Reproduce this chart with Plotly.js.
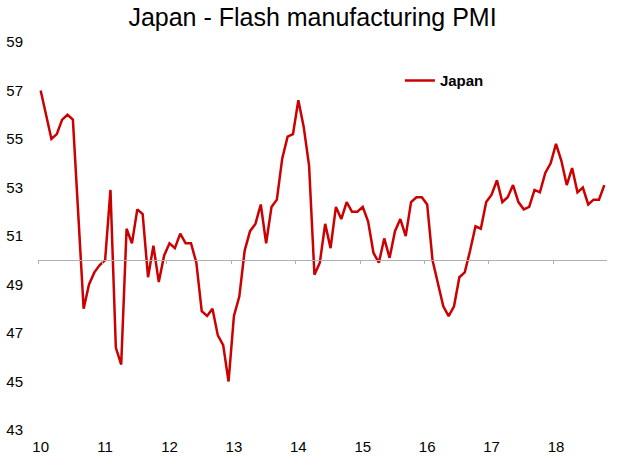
<!DOCTYPE html>
<html>
<head>
<meta charset="utf-8">
<script src="https://cdn.plot.ly/plotly-3.0.1.min.js"></script>
<style>html,body{margin:0;padding:0;background:#fff;}#chart{width:625px;height:461px;}</style>
</head>
<body>
<div id="chart"></div>
<script>
// Monthly values, Jan 2010 .. Oct 2018
const seriesName = "Japan";
const pmi2010 = [57.0, 56.0, 55.0, 55.2, 55.8, 56.0, 55.8, 51.9, 48.0, 49.0, 49.5, 49.8];
const pmi2011 = [50.0, 52.9, 46.4, 45.7, 51.3, 50.7, 52.1, 51.9, 49.3, 50.6, 49.1, 50.2];
const pmi2012 = [50.7, 50.5, 51.1, 50.7, 50.7, 49.9, 47.9, 47.7, 48.0, 46.9, 46.5, 45.0];
const pmi2013 = [47.7, 48.5, 50.4, 51.2, 51.5, 52.3, 50.7, 52.2, 52.5, 54.2, 55.1, 55.2];
const pmi2014 = [56.6, 55.5, 53.9, 49.4, 49.9, 51.5, 50.5, 52.2, 51.7, 52.4, 52.0, 52.0];
const pmi2015 = [52.2, 51.6, 50.3, 49.9, 50.9, 50.1, 51.2, 51.7, 51.0, 52.4, 52.6, 52.6];
const pmi2016 = [52.3, 50.0, 49.0, 48.1, 47.7, 48.1, 49.3, 49.5, 50.4, 51.4, 51.3, 52.4];
const pmi2017 = [52.7, 53.3, 52.4, 52.6, 53.1, 52.4, 52.1, 52.2, 52.9, 52.8, 53.6, 54.0];
const pmi2018 = [54.8, 54.1, 53.1, 53.8, 52.8, 53.0, 52.3, 52.5, 52.5, 53.1];
const yearLabels = ["10", "11", "12", "13", "14", "15", "16", "17", "18"];
const yTicks = [43, 45, 47, 49, 51, 53, 55, 57, 59];
const refLevel = 50;

const values = [].concat(pmi2010, pmi2011, pmi2012, pmi2013, pmi2014, pmi2015, pmi2016, pmi2017, pmi2018);
const monthIndex = values.map((v, i) => i);
const yearTickVals = yearLabels.map((l, k) => k * 12);
const yearBoundaryVals = yearLabels.map((l, k) => k * 12 - 0.5);
const xRange = [-0.5, values.length - 0.5];
const yRange = [yTicks[0], yTicks[yTicks.length - 1]];

const FONT = "Liberation Sans, Arial, sans-serif";

const traces = [
  {
    x: monthIndex, y: values, type: "scatter", mode: "lines", name: seriesName,
    line: {color: "#cc0000", width: 2.5}, hoverinfo: "skip"
  },
  {
    x: [], y: [], xaxis: "x2", yaxis: "y", type: "scatter", mode: "lines",
    showlegend: false, hoverinfo: "skip"
  }
];

const layout = {
  width: 625, height: 461,
  margin: {l: 38, r: 18, t: 42, b: 31},
  paper_bgcolor: "#ffffff", plot_bgcolor: "#ffffff",
  font: {family: FONT, size: 15, color: "#000"},
  title: {
    text: "Japan - Flash manufacturing PMI",
    font: {family: FONT, size: 25, color: "#000"},
    x: 0.5, xanchor: "center", y: 0.963, yanchor: "middle"
  },
  showlegend: true,
  legend: {
    x: 0.636, xanchor: "left", y: 0.9, yanchor: "middle",
    bgcolor: "rgba(0,0,0,0)", borderwidth: 0,
    font: {family: FONT, size: 15, color: "#000", weight: "bold"}
  },
  xaxis: {
    range: xRange, tickmode: "array", tickvals: yearTickVals, ticktext: yearLabels,
    showgrid: false, zeroline: false, showline: false, ticks: "",
    ticklabelstandoff: 6,
    tickfont: {family: FONT, size: 15, color: "#000"}, fixedrange: true
  },
  xaxis2: {
    overlaying: "x", anchor: "free",
    position: (refLevel - yRange[0]) / (yRange[1] - yRange[0]),
    range: xRange, tickmode: "array", tickvals: yearBoundaryVals,
    showticklabels: false, ticks: "outside", ticklen: 3, tickcolor: "#b0b0b0", tickwidth: 1,
    showline: true, linecolor: "#b0b0b0", linewidth: 1,
    showgrid: false, zeroline: false, fixedrange: true
  },
  yaxis: {
    range: yRange, tickmode: "array", tickvals: yTicks,
    showgrid: false, zeroline: false, showline: false, ticks: "",
    ticklabelstandoff: 14,
    tickfont: {family: FONT, size: 15, color: "#000"}, fixedrange: true
  }
};

Plotly.newPlot("chart", traces, layout, {displayModeBar: false, staticPlot: true});
</script>
</body>
</html>
